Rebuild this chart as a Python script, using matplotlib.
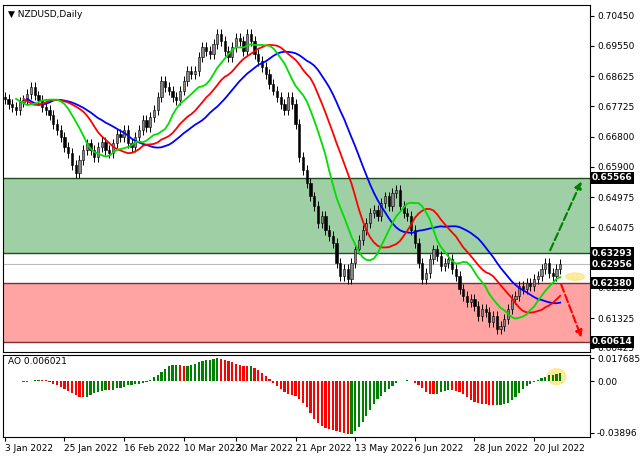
import numpy as np
import pandas as pd
import matplotlib
matplotlib.use('Agg')
import matplotlib.pyplot as plt
from matplotlib.patches import Rectangle, Ellipse

# Cierres diarios NZDUSD
closes = [
    0.6795, 0.6780, 0.6770, 0.6760, 0.6785, 0.6790, 0.6810, 0.6830, 0.6805, 0.6790,
    0.6770, 0.6760, 0.6745, 0.6720, 0.6700, 0.6680, 0.6650, 0.6630, 0.6595, 0.6570,
    0.6610, 0.6640, 0.6660, 0.6640, 0.6620, 0.6650, 0.6665, 0.6640, 0.6630, 0.6660,
    0.6690, 0.6680, 0.6700, 0.6660, 0.6650, 0.6680, 0.6700, 0.6730, 0.6710, 0.6740,
    0.6760, 0.6800, 0.6850, 0.6830, 0.6820, 0.6800, 0.6790, 0.6820, 0.6850, 0.6880,
    0.6870, 0.6880, 0.6920, 0.6950, 0.6940, 0.6930, 0.6960, 0.6990, 0.6970, 0.6940,
    0.6920, 0.6950, 0.6980, 0.6970, 0.6940, 0.6990, 0.6970, 0.6930, 0.6910, 0.6890,
    0.6870, 0.6840, 0.6820, 0.6800, 0.6780, 0.6760, 0.6800, 0.6780, 0.6720, 0.6620,
    0.6580, 0.6540, 0.6500, 0.6470, 0.6420, 0.6440, 0.6400, 0.6380, 0.6360, 0.6300,
    0.6260, 0.6280, 0.6250, 0.6300, 0.6340, 0.6370, 0.6400, 0.6420, 0.6450, 0.6460,
    0.6440, 0.6480, 0.6500, 0.6470, 0.6510, 0.6520, 0.6470, 0.6450, 0.6440, 0.6400,
    0.6360, 0.6300, 0.6250, 0.6270, 0.6310, 0.6340, 0.6320, 0.6290, 0.6300, 0.6310,
    0.6280, 0.6260, 0.6220, 0.6200, 0.6180, 0.6190, 0.6170, 0.6140, 0.6160, 0.6150,
    0.6120, 0.6140, 0.6100, 0.6110, 0.6130, 0.6160, 0.6190, 0.6200, 0.6230, 0.6220,
    0.6240, 0.6230, 0.6250, 0.6260, 0.6280, 0.6300, 0.6270, 0.6260, 0.6280, 0.62956,
]
first_open = 0.6800
wick = 0.0015

date_labels = ['3 Jan 2022', '25 Jan 2022', '16 Feb 2022', '10 Mar 2022', '30 Mar 2022',
               '21 Apr 2022', '13 May 2022', '6 Jun 2022', '28 Jun 2022', '20 Jul 2022']
date_idx = [0, 16, 32, 48, 62, 78, 94, 110, 126, 142]

price_ticks = [0.70450, 0.69550, 0.68625, 0.67725, 0.66800, 0.65900, 0.64975,
               0.64075, 0.62250, 0.61325, 0.60425]
resist_top, resist_bot = 0.65566, 0.63293
support_top, support_bot = 0.62380, 0.60614
current = 0.62956
ao_ticks = [0.017685, 0.0, -0.03896]
ao_labels = ['0.017685', '0.00', '-0.03896']

c = pd.Series(closes)
o = c.shift(1).fillna(first_open)
h = np.maximum(o, c) + wick
l = np.minimum(o, c) - wick
x = np.arange(len(c))

# Medias móviles tipo Alligator
green = c.rolling(8, min_periods=1).mean().shift(3)
red = c.rolling(13, min_periods=1).mean().shift(5)
blue = c.rolling(21, min_periods=1).mean().shift(6)

# Awesome Oscillator
med = (h + l) / 2
ao = med.rolling(5, min_periods=1).mean() - med.rolling(34, min_periods=1).mean()
ao_col = ['green' if i == 0 or ao[i] >= ao[i - 1] else 'red' for i in range(len(ao))]

fig = plt.figure(figsize=(6.4, 4.57), dpi=100)
ax = fig.add_axes([3 / 640, 1 - 352 / 457, 587 / 640, 347 / 457])
ax2 = fig.add_axes([3 / 640, 1 - 437 / 457, 587 / 640, 82 / 457])

xmax = 157
ax.add_patch(Rectangle((-1, resist_bot), xmax + 2, resist_top - resist_bot,
                       facecolor='#9fcfa4', edgecolor='#1e4d1e', lw=1, zorder=0))
ax.add_patch(Rectangle((-1, support_bot), xmax + 2, support_top - support_bot,
                       facecolor='#ffa3a3', edgecolor='#7a3030', lw=1, zorder=0))
ax.axhline(current, color='#bbbbbb', lw=0.8, zorder=0)

for i in x:
    up = c[i] >= o[i]
    col = '#888888' if up else 'black'
    ax.vlines(i, l[i], h[i], color='black', lw=0.7, zorder=2)
    ax.add_patch(Rectangle((i - 0.3, min(o[i], c[i])), 0.6, max(abs(c[i] - o[i]), 0.0002),
                           facecolor=col, edgecolor='black', lw=0.4, zorder=3))

ax.plot(x, blue, color='blue', lw=1.3, zorder=4)
ax.plot(x, red, color='red', lw=1.3, zorder=4)
ax.plot(x, green, color='#00dd00', lw=1.3, zorder=4)

ax.add_patch(Ellipse((153, 0.6258), 5, 0.0022, color='#ffe680', alpha=0.8, zorder=5))
ax.annotate('', xy=(155, 0.6553), xytext=(146, 0.6330),
            arrowprops=dict(arrowstyle='-|>', color='green', ls='--', lw=1.5))
ax.annotate('', xy=(155, 0.6066), xytext=(149, 0.6242),
            arrowprops=dict(arrowstyle='-|>', color='red', ls='--', lw=1.5))

ax.set_xlim(-0.5, xmax)
ax.set_ylim(0.60304, 0.70782)
ax.yaxis.tick_right()
ax.set_yticks(price_ticks)
ax.set_yticklabels([f'{v:.5f}' for v in price_ticks], fontsize=6.5)
ax.set_xticks([])
ax.tick_params(axis='y', length=3, pad=2)
for v in [resist_top, resist_bot, current, support_top, support_bot]:
    ax.text(1.003, v, f'{v:.5f}', transform=ax.get_yaxis_transform(), fontsize=6.5,
            color='white', va='center', ha='left', fontweight='bold',
            bbox=dict(boxstyle='square,pad=0.15', facecolor='black', edgecolor='none'))
ax.text(0.008, 0.985, '▼ NZDUSD,Daily', transform=ax.transAxes, fontsize=6.5, va='top')

ax2.bar(x, ao, width=0.6, color=ao_col)
ax2.add_patch(Ellipse((148, ao.iloc[-1] * 0.6), 5, 0.012,
                      color='#ffe680', alpha=0.8, zorder=0))
ax2.set_xlim(-0.5, xmax)
ax2.set_ylim(-0.042, 0.020)
ax2.yaxis.tick_right()
ax2.set_yticks(ao_ticks)
ax2.set_yticklabels(ao_labels, fontsize=6.5)
ax2.set_xticks(date_idx)
ax2.set_xticklabels(date_labels, fontsize=6.5, ha='left')
ax2.tick_params(axis='x', length=3, pad=2)
ax2.tick_params(axis='y', length=3, pad=2)
ax2.text(0.008, 0.97, f'AO {ao.iloc[-1]:.6f}', transform=ax2.transAxes, fontsize=6.5, va='top')

fig.savefig('out.png', dpi=100)
